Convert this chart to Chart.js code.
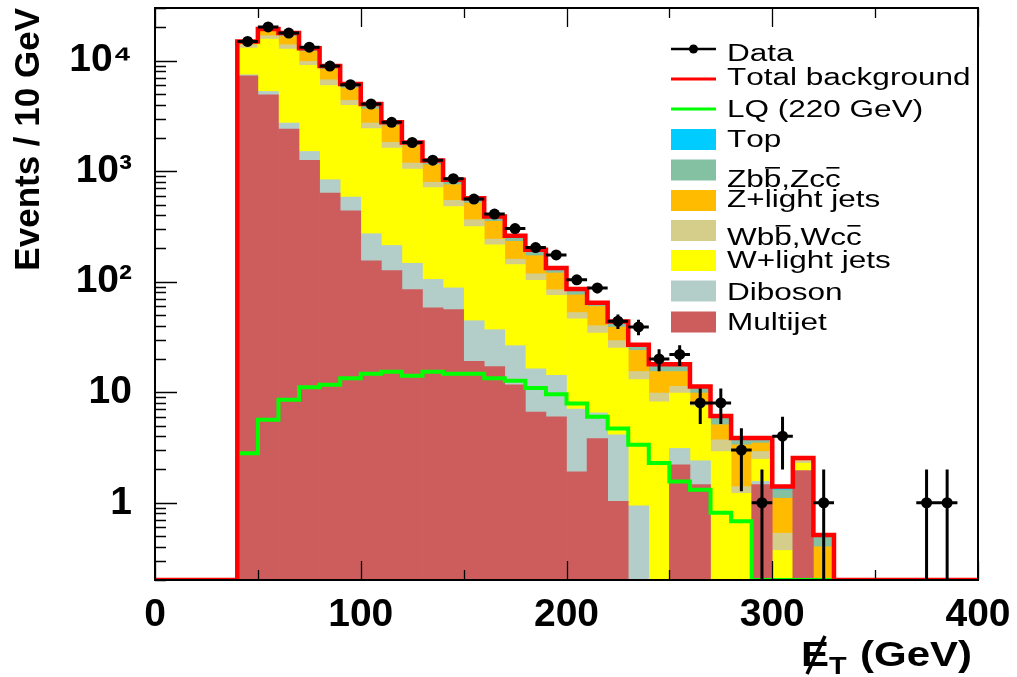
<!DOCTYPE html>
<html>
<head>
<meta charset="utf-8">
<title>Missing ET</title>
<script src="https://cdn.jsdelivr.net/npm/chart.js@4.4.1/dist/chart.umd.min.js"></script>
<style>
  html, body { margin: 0; padding: 0; background: #fff; }
  canvas { display: block; }
</style>
</head>
<body>
<canvas id="met-chart" width="1017" height="677"></canvas>
<script>
// lower edges of the 10 GeV bins that hold background (40 ... 320)
var binLow = [40, 50, 60, 70, 80, 90, 100, 110, 120, 130, 140, 150, 160, 170, 180,
              190, 200, 210, 220, 230, 240, 250, 260, 270, 280, 290, 300, 310, 320];
var binWidth = 10;

// stacked backgrounds, bottom to top
var multijet = [7310, 4920, 2410, 1253, 635, 439, 155, 126, 85, 58, 56, 19, 17.1, 11.7, 6.6,
                6.0, 1.9, 3.8, 1.03, 0, 0, 2.2, 1.46, 0, 0, 1.46, 0, 1.96, 0];
var diboson = [140, 355, 320, 257, 203, 145, 117, 87, 62, 47, 32, 25.4, 19.7, 14.7, 9.7,
               8.2, 5.15, 2.7, 3.09, 0.94, 0, 0.9, 0.94, 0, 0, 0.1, 0, 0, 0];
var wLight = [5580, 10425, 10040, 7560, 5132, 3356, 2158, 1409, 900, 605, 392, 271.6, 179.2, 116.6, 86.7,
              61, 39.05, 27.8, 21.0, 12.06, 8.2, 6.74, 5.1, 2.91, 1.22, 0.92, 0.37, 0.32, 0];
var wbb = [930, 1130, 1190, 790, 760, 450, 300, 201, 139, 85, 65, 48, 27, 17, 15,
           9.5, 6.5, 5.7, 4.2, 2.4, 1.64, 1.46, 0.5, 0.8, 0.18, 0.43, 0.16, 0.13, 0];
var zLight = [400, 1650, 2600, 2270, 1680, 1270, 930, 757, 516, 350, 210, 151, 109, 72, 54,
              35.3, 23.4, 19.8, 9.5, 8.5, 5.56, 4.1, 1.84, 1.37, 1.95, 0.56, 0.57, 0.06, 0.40];
var zbb = [450, 700, 1000, 650, 420, 390, 320, 150, 95, 88, 70, 47, 32, 25, 20,
           11, 8.5, 3.8, 4.3, 2.6, 2.2, 2.2, 1.26, 0.85, 0.38, 0.28, 0.21, 0.04, 0.086];
var topQuark = [150, 180, 240, 190, 120, 100, 80, 40, 26, 20, 13, 8, 6, 4, 3,
                2, 1.5, 0.9, 0.6, 0.4, 0.3, 0.3, 0.2, 0.17, 0.12, 0.1, 0.09, 0.03, 0.024];

// leptoquark signal, same bins
var lq220 = [2.81, 5.64, 8.55, 11.1, 11.7, 13.4, 14.7, 15.3, 14.1, 15.3, 14.7, 14.7, 13.4, 12.7, 10.9,
             9.6, 7.9, 6.0, 4.7, 3.35, 2.29, 1.56, 1.31, 0.81, 0.68, 0, 0, 0, 0];

// observed events (bin centres, counts)
var dataCenter = [45, 55, 65, 75, 85, 95, 105, 115, 125, 135, 145, 155, 165, 175, 185,
                  195, 205, 215, 225, 235, 245, 255, 265, 275, 285, 295, 305, 325, 375, 385];
var dataCounts = [14950, 20200, 17800, 13250, 8950, 6070, 4060, 2770, 1820, 1260, 855, 560, 410, 303, 204,
                  175, 104, 88, 44, 39, 20, 22, 8, 8, 3, 1, 4, 1, 1, 1];

var xTicks = [0, 100, 200, 300, 400];
var yMin = 0.2, yMax = 30000;

var fontFamily = '"Liberation Sans", Arial, Helvetica, sans-serif';

var stackParts = [
  { label: 'Multijet', values: multijet, color: '#cd5c5c' },
  { label: 'Diboson', values: diboson, color: '#b3cec8' },
  { label: 'W+light jets', values: wLight, color: '#ffff00' },
  { label: 'Wbb\u0305,Wcc\u0305', values: wbb, color: '#d4ce8a' },
  { label: 'Z+light jets', values: zLight, color: '#ffbb00' },
  { label: 'Zbb\u0305,Zcc\u0305', values: zbb, color: '#84c1a3' },
  { label: 'Top', values: topQuark, color: '#00ccff' }
];

var totalBg = binLow.map(function (b, i) {
  return stackParts.reduce(function (s, p) { return s + p.values[i]; }, 0);
});

function histPoints(values, tail) {
  // step outline through the bin edges; empty bins sit on the axis floor
  var pts = [{ x: 0, y: yMin }];
  binLow.forEach(function (b, i) {
    pts.push({ x: b, y: values[i] > 0 ? values[i] : yMin });
  });
  pts.push({ x: binLow[binLow.length - 1] + binWidth, y: yMin });
  if (tail) pts.push({ x: tail, y: yMin });
  return pts;
}

var datasets = stackParts.map(function (p) {
  return {
    type: 'bar',
    label: p.label,
    data: binLow.map(function (b, i) { return { x: b + binWidth / 2, y: p.values[i] }; }),
    backgroundColor: p.color,
    borderWidth: 0,
    barPercentage: 1,
    categoryPercentage: 1,
    order: 3
  };
});

datasets.push({
  type: 'line',
  label: 'Total background',
  data: histPoints(totalBg, 400),
  stepped: true,
  borderColor: '#ff0000',
  borderWidth: 4.5,
  pointRadius: 0,
  fill: false,
  stack: 'total',
  order: 1
});

datasets.push({
  type: 'line',
  label: 'LQ (220 GeV)',
  data: histPoints(lq220),
  stepped: true,
  borderColor: '#00ff00',
  borderWidth: 4,
  pointRadius: 0,
  fill: false,
  stack: 'lq',
  order: 2
});

datasets.push({
  type: 'scatter',
  label: 'Data',
  data: dataCenter.map(function (c, i) { return { x: c, y: dataCounts[i] }; }),
  pointRadius: 5.5,
  pointBackgroundColor: '#000',
  pointBorderWidth: 0,
  borderColor: '#000',
  stack: 'data',
  order: 0
});

var errorBars = {
  id: 'errorBars',
  afterDatasetsDraw: function (chart) {
    var ctx = chart.ctx, a = chart.chartArea;
    var xs = chart.scales.x, ys = chart.scales.y;
    ctx.save();
    ctx.beginPath();
    ctx.rect(a.left, a.top, a.right - a.left, a.bottom - a.top);
    ctx.clip();
    ctx.strokeStyle = '#000';
    ctx.lineWidth = 3;
    ctx.beginPath();
    dataCounts.forEach(function (n, i) {
      var c = dataCenter[i], s = Math.sqrt(n);
      var px = xs.getPixelForValue(c), py = ys.getPixelForValue(n);
      var lo = n - s > 0 ? ys.getPixelForValue(n - s) : a.bottom;
      ctx.moveTo(px, ys.getPixelForValue(n + s));
      ctx.lineTo(px, lo);
      ctx.moveTo(xs.getPixelForValue(c - binWidth / 2), py);
      ctx.lineTo(xs.getPixelForValue(c + binWidth / 2), py);
    });
    ctx.stroke();
    ctx.restore();
  }
};

// ROOT style frame: box plus tick marks pointing inwards
var frame = {
  id: 'frame',
  afterDatasetsDraw: function (chart) {
    var ctx = chart.ctx, a = chart.chartArea;
    var xs = chart.scales.x, ys = chart.scales.y;
    ctx.save();
    ctx.strokeStyle = '#000';
    ctx.lineWidth = 1.3;
    ctx.beginPath();
    for (var v = 0; v <= 400; v += 50) {
      var px = Math.round(xs.getPixelForValue(v)) + 0.5;
      var len = v % 100 === 0 ? 19 : 10;
      ctx.moveTo(px, a.bottom); ctx.lineTo(px, a.bottom - len);
      ctx.moveTo(px, a.top); ctx.lineTo(px, a.top + len);
    }
    for (var e = -1; e <= 4; e++) {
      for (var m = 1; m <= 9; m++) {
        var val = m * Math.pow(10, e);
        if (val < ys.min || val > ys.max) continue;
        var py = Math.round(ys.getPixelForValue(val)) + 0.5;
        ctx.moveTo(a.left, py);
        ctx.lineTo(a.left + (m === 1 ? 22 : 11), py);
      }
    }
    ctx.stroke();
    ctx.lineWidth = 2;
    ctx.strokeRect(a.left, a.top, a.right - a.left, a.bottom - a.top);
    ctx.restore();
  }
};

function drawStretched(ctx, text, x, y, sx) {
  // draws text widened by sx; a combining overline puts a bar on the previous letter
  ctx.save();
  ctx.translate(x, y);
  ctx.scale(sx, 1);
  var chars = Array.from(text), cx = 0;
  for (var i = 0; i < chars.length; i++) {
    if (chars[i] === '\u0305') continue;
    var w = ctx.measureText(chars[i]).width;
    ctx.fillText(chars[i], cx, 0);
    if (chars[i + 1] === '\u0305') ctx.fillRect(cx + 1, -20, w - 2, 1.6);
    cx += w;
  }
  ctx.restore();
}

var legendRows = [
  { label: 'Data', mid: 49, base: 61 },
  { label: 'Total background', mid: 79, base: 85 },
  { label: 'LQ (220 GeV)', mid: 109, base: 117 },
  { label: 'Top', mid: 139.5, base: 147 },
  { label: 'Zbb\u0305,Zcc\u0305', mid: 170, base: 187 },
  { label: 'Z+light jets', mid: 200.5, base: 207 },
  { label: 'Wbb\u0305,Wcc\u0305', mid: 230.5, base: 245 },
  { label: 'W+light jets', mid: 260.5, base: 268 },
  { label: 'Diboson', mid: 291, base: 300 },
  { label: 'Multijet', mid: 322, base: 330 }
];

var legendBox = {
  id: 'legendBox',
  afterDraw: function (chart) {
    var ctx = chart.ctx;
    var x0 = 671, x1 = 716, tx = 727;
    ctx.save();
    ctx.font = '23px ' + fontFamily;
    ctx.textBaseline = 'alphabetic';
    ctx.fillStyle = '#000';
    legendRows.forEach(function (row) {
      var ds = chart.data.datasets.filter(function (d) { return d.label === row.label; })[0];
      if (ds.type === 'bar') {
        ctx.fillStyle = ds.backgroundColor;
        ctx.fillRect(x0, row.mid - 10.5, x1 - x0, 21);
      } else if (ds.type === 'line') {
        ctx.strokeStyle = ds.borderColor;
        ctx.lineWidth = 3;
        ctx.beginPath(); ctx.moveTo(x0, row.mid); ctx.lineTo(x1, row.mid); ctx.stroke();
      } else {
        ctx.strokeStyle = '#000';
        ctx.lineWidth = 2.5;
        ctx.beginPath(); ctx.moveTo(x0, row.mid); ctx.lineTo(x1, row.mid); ctx.stroke();
        ctx.fillStyle = '#000';
        ctx.beginPath(); ctx.arc((x0 + x1) / 2, row.mid, 4.5, 0, 2 * Math.PI); ctx.fill();
      }
      ctx.fillStyle = '#000';
      drawStretched(ctx, row.label, tx, row.base, 1.37);
    });
    ctx.restore();
  }
};

// x title: E with a slash, subscript T, then (GeV)
var xTitle = {
  id: 'xTitle',
  afterDraw: function (chart) {
    var ctx = chart.ctx;
    ctx.save();
    ctx.fillStyle = '#000';
    ctx.strokeStyle = '#000';
    ctx.font = 'bold 35px ' + fontFamily;
    drawStretched(ctx, 'E', 801, 666, 1.2);
    ctx.lineWidth = 3.5;
    ctx.beginPath(); ctx.moveTo(807, 674); ctx.lineTo(825, 636); ctx.stroke();
    ctx.font = 'bold 24px ' + fontFamily;
    drawStretched(ctx, 'T', 829, 674, 1.2);
    ctx.font = 'bold 35px ' + fontFamily;
    drawStretched(ctx, '(GeV)', 860, 666, 1.2);
    ctx.restore();
  }
};

var supers = { 2: '\u00B2', 3: '\u00B3', 4: '\u2074' };

new Chart(document.getElementById('met-chart'), {
  type: 'bar',
  data: { datasets: datasets },
  options: {
    responsive: false,
    animation: false,
    events: [],
    layout: { padding: { top: 8, right: 39, left: 0, bottom: 0 } },
    plugins: {
      legend: { display: false },
      tooltip: { enabled: false }
    },
    scales: {
      x: {
        type: 'linear',
        min: 0,
        max: 400,
        offset: false,
        stacked: true,
        grid: { display: false, offset: false },
        border: { display: false },
        afterBuildTicks: function (scale) {
          scale.ticks = xTicks.map(function (v) { return { value: v }; });
        },
        ticks: {
          autoSkip: false,
          maxRotation: 0,
          padding: 4,
          color: '#000',
          font: { family: fontFamily, size: 39, weight: 'bold' }
        },
        afterFit: function (scale) {
          scale.height = 97;
          scale.paddingLeft = 0;
          scale.paddingRight = 0;
        }
      },
      y: {
        type: 'logarithmic',
        min: yMin,
        max: yMax,
        stacked: true,
        grid: { display: false },
        border: { display: false },
        ticks: {
          autoSkip: false,
          padding: 15,
          color: '#000',
          font: { family: fontFamily, size: 39, weight: 'bold' },
          callback: function (v) {
            var lg = Math.log10(v), e = Math.round(lg);
            if (Math.abs(lg - e) > 1e-6 || e < 0) return '';
            if (e === 0) return '1';
            if (e === 1) return '10';
            return '10' + supers[e];
          }
        },
        title: {
          display: true,
          text: 'Events / 10 GeV',
          align: 'end',
          color: '#000',
          padding: { top: 8, bottom: 0 },
          font: { family: fontFamily, size: 35, weight: 'bold' }
        },
        afterFit: function (scale) {
          scale.width = 155;
          scale.paddingTop = 0;
          scale.paddingBottom = 0;
        }
      }
    }
  },
  plugins: [errorBars, frame, legendBox, xTitle]
});
</script>
</body>
</html>
